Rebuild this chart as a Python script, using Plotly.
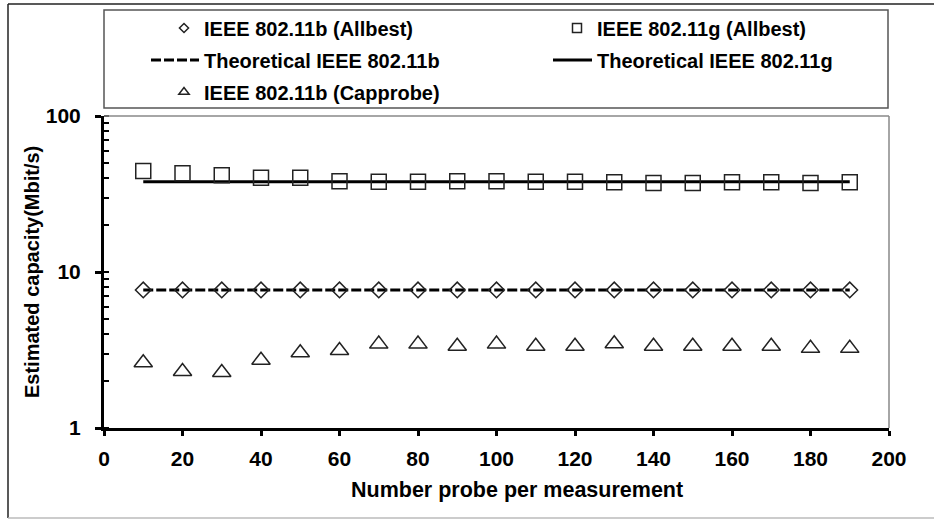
import plotly.graph_objects as go

# Probe counts per measurement (x) and estimated capacities (Mbit/s)
probes = [10, 20, 30, 40, 50, 60, 70, 80, 90, 100,
          110, 120, 130, 140, 150, 160, 170, 180, 190]

b_allbest = [7.67, 7.67, 7.67, 7.67, 7.67, 7.67, 7.67, 7.67, 7.67, 7.67,
             7.67, 7.67, 7.67, 7.67, 7.67, 7.67, 7.67, 7.67, 7.67]
g_allbest = [44.4, 42.9, 41.7, 40.2, 40.2, 38.2, 37.9, 37.9, 38.2, 38.2,
             37.9, 37.9, 37.6, 37.2, 37.2, 37.6, 37.6, 37.2, 37.6]
b_capprobe = [2.62, 2.30, 2.27, 2.72, 3.04, 3.14, 3.45, 3.45, 3.34, 3.45,
              3.34, 3.34, 3.47, 3.34, 3.34, 3.34, 3.34, 3.24, 3.24]
theory_b = [7.67, 7.67, 7.67, 7.67, 7.67, 7.67, 7.67, 7.67, 7.67, 7.67,
            7.67, 7.67, 7.67, 7.67, 7.67, 7.67, 7.67, 7.67, 7.67]
theory_g = [37.9, 37.9, 37.9, 37.9, 37.9, 37.9, 37.9, 37.9, 37.9, 37.9,
            37.9, 37.9, 37.9, 37.9, 37.9, 37.9, 37.9, 37.9, 37.9]

x_ticks = [0, 20, 40, 60, 80, 100, 120, 140, 160, 180, 200]

names = ["IEEE 802.11b (Allbest)", "IEEE 802.11g (Allbest)",
         "Theoretical IEEE 802.11b", "Theoretical IEEE 802.11g",
         "IEEE 802.11b (Capprobe)"]

FONT = "Liberation Sans, Arial, sans-serif"
INK = "#222222"

# plot area in pixels
L, R, T, B = 104, 889, 116, 428
W, H = 934, 520


def px_x(px):
    return (px - L) / (R - L)


def px_y(py):
    return (B - py) / (B - T)


fig = go.Figure()

# data traces
fig.add_trace(go.Scatter(x=probes, y=theory_b, mode="lines", showlegend=False,
                         line=dict(color="black", width=3, dash="10px,3px")))
fig.add_trace(go.Scatter(x=probes, y=theory_g, mode="lines", showlegend=False,
                         line=dict(color="black", width=3)))
fig.add_trace(go.Scatter(x=probes, y=b_allbest, mode="markers", showlegend=False,
                         marker=dict(symbol="diamond-open", size=12, color=INK,
                                     line=dict(width=1.5, color=INK))))
fig.add_trace(go.Scatter(x=probes, y=g_allbest, mode="markers", showlegend=False,
                         marker=dict(symbol="square-open", size=15, color=INK,
                                     line=dict(width=1.5, color=INK))))
fig.add_trace(go.Scatter(x=probes, y=b_capprobe, mode="markers", showlegend=False,
                         marker=dict(symbol="triangle-up-open", size=16, color=INK,
                                     line=dict(width=1.5, color=INK))))

# legend keys, one legend per entry so each sits in its own slot
keys = [
    dict(name=names[0], mode="markers",
         marker=dict(symbol="diamond-open", size=7, color=INK, line=dict(width=1.5, color=INK))),
    dict(name=names[1], mode="markers",
         marker=dict(symbol="square-open", size=9, color=INK, line=dict(width=1.5, color=INK))),
    dict(name=names[2], mode="lines", line=dict(color="black", width=3, dash="10px,3px")),
    dict(name=names[3], mode="lines", line=dict(color="black", width=3)),
    dict(name=names[4], mode="markers",
         marker=dict(symbol="triangle-up-open", size=9, color=INK, line=dict(width=1.5, color=INK))),
]
# (left edge px, row centre px, symbol width px)
slots = [(164, 28, 30), (557, 28, 30), (146, 60, 48), (548, 60, 39), (164, 92, 30)]
legend_font = dict(family=FONT, size=20, color="black", weight="bold")
legend_layouts = {}
for i, (k, (sx, sy, iw)) in enumerate(zip(keys, slots)):
    lid = "legend" if i == 0 else f"legend{i + 1}"
    fig.add_trace(go.Scatter(x=[None], y=[None], showlegend=True, legend=lid, **k))
    legend_layouts[lid] = dict(x=px_x(sx), y=px_y(sy), xanchor="left", yanchor="middle",
                               bgcolor="rgba(0,0,0,0)", borderwidth=0, font=legend_font,
                               itemwidth=iw, itemclick=False, itemdoubleclick=False)

shapes = [
    # outer frame
    dict(type="line", xref="paper", yref="paper", x0=px_x(8), x1=px_x(960),
         y0=px_y(4), y1=px_y(4), line=dict(color="#222", width=1.5)),
    dict(type="line", xref="paper", yref="paper", x0=px_x(8), x1=px_x(8),
         y0=px_y(4), y1=px_y(518), line=dict(color="#222", width=1.5)),
    dict(type="line", xref="paper", yref="paper", x0=px_x(8), x1=px_x(960),
         y0=px_y(518), y1=px_y(518), line=dict(color="#bbb", width=1.5)),
    # legend box
    dict(type="rect", xref="paper", yref="paper", x0=px_x(104), x1=px_x(888),
         y0=px_y(108), y1=px_y(10), line=dict(color="#555", width=1.5)),
    # plot area top and right edges
    dict(type="line", xref="paper", yref="paper", x0=0, x1=1, y0=1, y1=1,
         line=dict(color="#888", width=1.5)),
    dict(type="line", xref="paper", yref="paper", x0=1, x1=1, y0=0, y1=1,
         line=dict(color="#888", width=1.5)),
]

annotations = [
    dict(text="Number probe per measurement", xref="paper", yref="paper",
         x=px_x(517), y=px_y(490), xanchor="center", yanchor="middle",
         showarrow=False, font=dict(family=FONT, size=21.5, color="black", weight="bold")),
    dict(text="Estimated capacity(Mbit/s)", xref="paper", yref="paper",
         x=px_x(32), y=px_y(272), xanchor="center", yanchor="middle", textangle=-90,
         showarrow=False, font=dict(family=FONT, size=20, color="black", weight="bold")),
]

tick_font = dict(family=FONT, size=21, color="black", weight="bold")

fig.update_layout(
    width=W, height=H,
    margin=dict(l=L, r=W - R, t=T, b=H - B, autoexpand=False),
    paper_bgcolor="white", plot_bgcolor="white",
    shapes=shapes, annotations=annotations,
    xaxis=dict(range=[0, 200], tickvals=x_ticks, ticks="outside", ticklen=5,
               tickwidth=2.5, tickcolor="black", showline=True, linewidth=3,
               linecolor="black", showgrid=False, zeroline=False,
               tickfont=tick_font, ticklabelstandoff=5),
    yaxis=dict(type="log", range=[0, 2], dtick=1, ticks="outside", ticklen=6,
               tickwidth=2.5, tickcolor="black", showline=True, linewidth=3,
               linecolor="black", showgrid=False, zeroline=False,
               tickfont=tick_font, ticklabelstandoff=10,
               minor=dict(ticks="inside", ticklen=5, tickwidth=2, tickcolor="black",
                          dtick="D1", showgrid=False)),
    **legend_layouts,
)

fig.write_html("out.html")
